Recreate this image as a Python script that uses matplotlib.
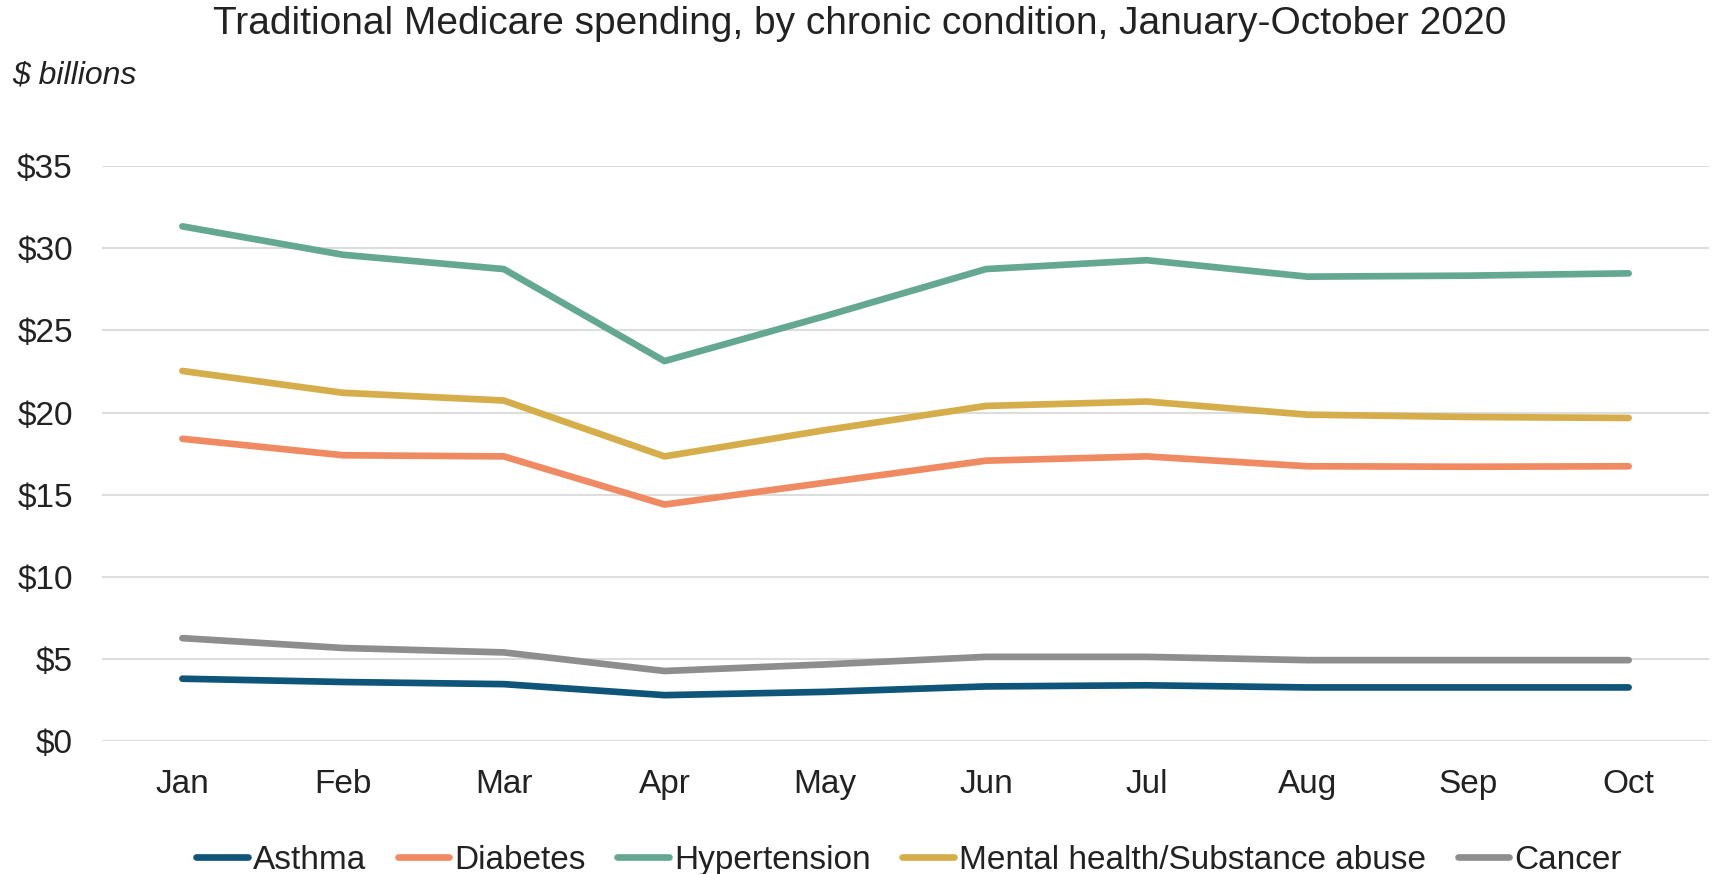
import matplotlib
matplotlib.use("Agg")
import matplotlib.pyplot as plt

months = ["Jan", "Feb", "Mar", "Apr", "May", "Jun", "Jul", "Aug", "Sep", "Oct"]
asthma = [3.8, 3.6, 3.47, 2.8, 3.0, 3.33, 3.4, 3.27, 3.27, 3.27]
diabetes = [18.4, 17.4, 17.33, 14.4, 15.73, 17.07, 17.33, 16.73, 16.7, 16.73]
hypertension = [31.33, 29.6, 28.73, 23.13, 25.87, 28.73, 29.27, 28.27, 28.33, 28.47]
mental = [22.53, 21.2, 20.73, 17.33, 18.93, 20.4, 20.67, 19.87, 19.73, 19.67]
cancer = [6.27, 5.67, 5.4, 4.27, 4.67, 5.13, 5.13, 4.93, 4.93, 4.93]
yticks = [0, 5, 10, 15, 20, 25, 30, 35]
ytick_labels = ["$0", "$5", "$10", "$15", "$20", "$25", "$30", "$35"]

series = [
    ("Asthma", asthma, "#0F5479"),
    ("Diabetes", diabetes, "#F08A62"),
    ("Hypertension", hypertension, "#65A891"),
    ("Mental health/Substance abuse", mental, "#D5AD4B"),
    ("Cancer", cancer, "#8E8E8E"),
]

plt.rcParams['font.family'] = ['Liberation Sans', 'DejaVu Sans']

fig = plt.figure(figsize=(17.15, 8.74), dpi=100)
ax = fig.add_axes([0.0595, 0.152, 0.937, 0.658])

x = list(range(len(months)))
for name, vals, col in series:
    ax.plot(x, vals, color=col, lw=4.8, label=name, solid_capstyle='round',
            solid_joinstyle='round', clip_on=False, zorder=3)

ax.set_xlim(-0.5, 9.5)
ax.set_ylim(0, 35)
ax.set_yticks(yticks)
ax.set_yticklabels(ytick_labels)
ax.set_xticks(x)
ax.set_xticklabels(months)
ax.grid(axis='y', color='#DDDDDD', lw=1.5, zorder=0)
ax.set_axisbelow(True)
for s in ax.spines.values():
    s.set_visible(False)
ax.tick_params(axis='both', length=0, labelsize=24, colors='#222222')
ax.tick_params(axis='y', pad=21)
ax.tick_params(axis='x', pad=20)

fig.text(0.501, 0.973, "Traditional Medicare spending, by chronic condition, January-October 2020",
         ha='center', va='center', fontsize=28, color='#222222')
fig.text(0.007, 0.914, "$ billions", ha='left', va='center', fontsize=23,
         style='italic', color='#222222')

leg = fig.legend(loc='center', bbox_to_anchor=(0.53, 0.016), ncol=5, frameon=False,
                 fontsize=24, handlelength=1.55, handletextpad=0.15, columnspacing=0.95,
                 labelcolor='#222222')

fig.savefig("out.png", dpi=100)
